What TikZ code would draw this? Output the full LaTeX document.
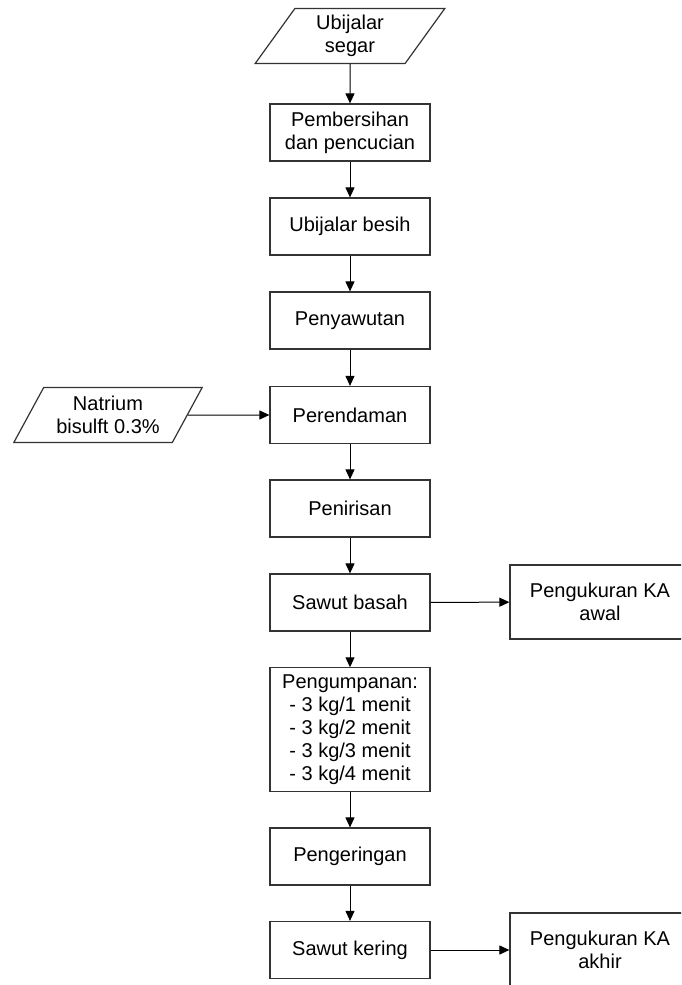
\documentclass[tikz,border=0pt]{standalone}
\usepackage{fontspec}
\setmainfont{Liberation Sans}
\usetikzlibrary{arrows.meta,shapes.geometric}
\begin{document}
\begin{tikzpicture}[
                x=0.5pt, y=-0.5pt,
                every node/.style={font=\fontsize{10}{11.5}\selectfont, align=center},
                proses/.style={shape=rectangle, draw=black!80, line width=0.6pt, minimum width=80pt, minimum height=28.5pt},
                masukan/.style={shape=trapezium, draw=black!80, line width=0.6pt, trapezium left angle=62, trapezium right angle=118, trapezium stretches=true, minimum width=95pt, minimum height=27.5pt},
                ukur/.style={proses, minimum width=90pt, minimum height=37pt},
                panah/.style={line width=0.5pt, -{Triangle[length=5pt,width=4.5pt]}},
            ]
            \clip (0,0) rectangle (681,985);
            \node[masukan] (segar) at (350, 36) {Ubijalar\\segar};
            \node[proses] (bersih) at (350, 132.5) {Pembersihan\\dan pencucian};
            \node[proses] (besih) at (350, 226.5) {Ubijalar besih};
            \node[proses] (sawut) at (350, 320.5) {Penyawutan};
            \node[proses] (rendam) at (350, 415) {Perendaman};
            \node[masukan] (natrium) at (108, 415) {Natrium\\bisulft 0.3\%};
            \node[proses] (tiris) at (350, 508.5) {Penirisan};
            \node[proses] (basah) at (350, 602.5) {Sawut basah};
            \node[ukur] (awal) at (600, 602) {Pengukuran KA\\awal};
            \node[proses, minimum height=61.5pt] (umpan) at (350, 729.5) {Pengumpanan:\\- 3 kg/1 menit\\- 3 kg/2 menit\\- 3 kg/3 menit\\- 3 kg/4 menit};
            \node[proses] (kering) at (350, 856.5) {Pengeringan};
            \node[proses] (sawutkering) at (350, 950) {Sawut kering};
            \node[ukur] (akhir) at (600, 950) {Pengukuran KA\\akhir};
            \draw[panah] (segar) -- (bersih);
            \draw[panah] (bersih) -- (besih);
            \draw[panah] (besih) -- (sawut);
            \draw[panah] (sawut) -- (rendam);
            \draw[panah] (natrium) -- (rendam);
            \draw[panah] (rendam) -- (tiris);
            \draw[panah] (tiris) -- (basah);
            \draw[panah] (basah) -- (awal);
            \draw[panah] (basah) -- (umpan);
            \draw[panah] (umpan) -- (kering);
            \draw[panah] (kering) -- (sawutkering);
            \draw[panah] (sawutkering) -- (akhir);
        \end{tikzpicture}
\end{document}
